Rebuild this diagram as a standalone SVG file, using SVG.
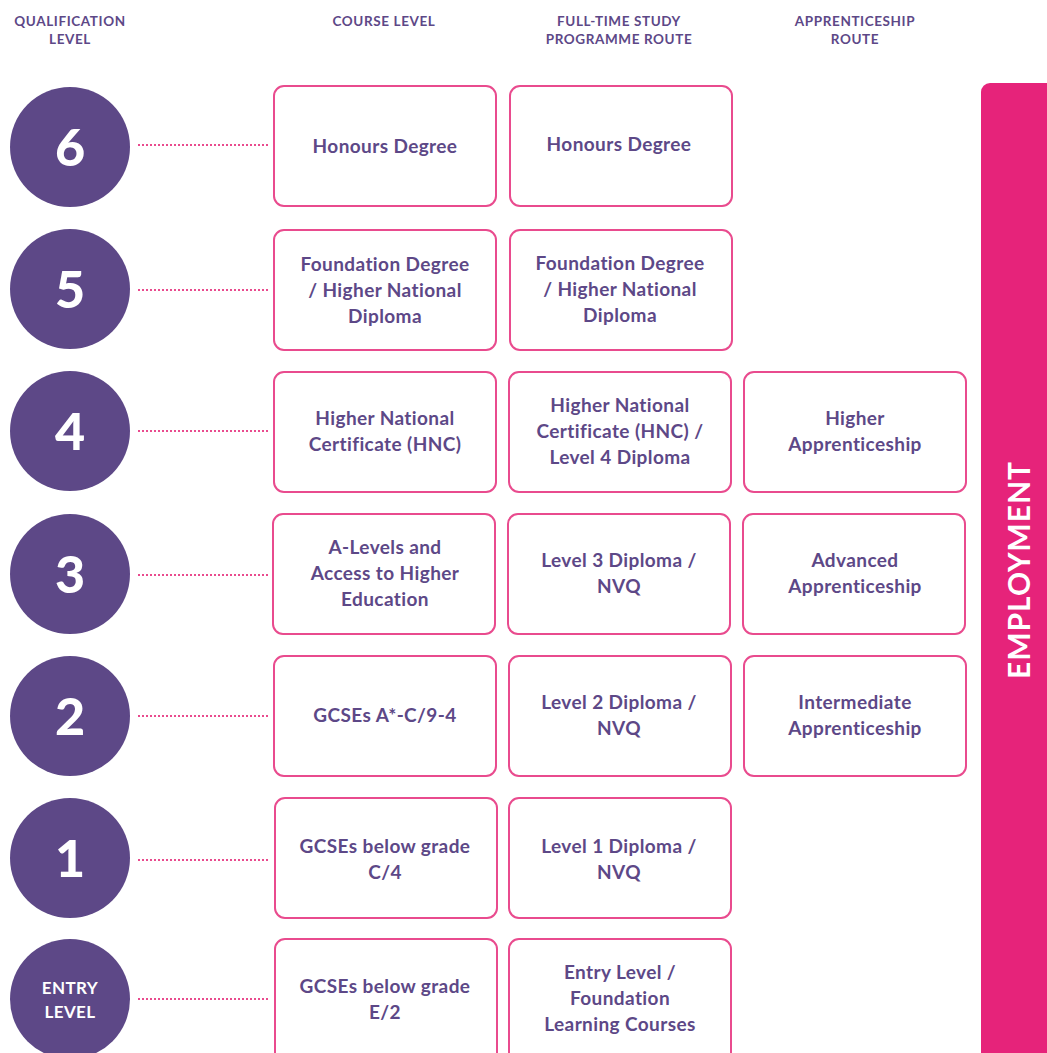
<svg xmlns="http://www.w3.org/2000/svg" width="1047" height="1053" viewBox="0 0 1047 1053">
<style>
.hd{font-family:Lato,"Open Sans",sans-serif;font-weight:700;font-size:13.5px;letter-spacing:0.6px;fill:#5D4887;text-anchor:middle}
.bx{fill:#fff;stroke:#E94B8E;stroke-width:2}
.tx{font-family:Lato,"Open Sans",sans-serif;font-weight:700;font-size:19px;letter-spacing:0.4px;fill:#5D4887;text-anchor:middle}
.cc{fill:#5D4887}
.num{font-family:Lato,"Open Sans",sans-serif;font-weight:900;font-size:52px;fill:#fff;text-anchor:middle}
.ent{font-family:Lato,"Open Sans",sans-serif;font-weight:700;font-size:17px;letter-spacing:0.4px;fill:#fff;text-anchor:middle}
.dot{stroke:#E94B8E;stroke-width:2;stroke-dasharray:2 2;fill:none}
</style>
<rect width="1047" height="1053" fill="#fff"/>
<g id="headers">
<text class="hd" x="70" y="26">QUALIFICATION</text>
<text class="hd" x="70" y="44">LEVEL</text>
<text class="hd" x="384" y="26">COURSE LEVEL</text>
<text class="hd" x="619" y="26">FULL-TIME STUDY</text>
<text class="hd" x="619" y="44">PROGRAMME ROUTE</text>
<text class="hd" x="855" y="26">APPRENTICESHIP</text>
<text class="hd" x="855" y="44">ROUTE</text>
</g>
<g id="employment">
<rect x="981" y="83" width="90" height="1000" rx="9" fill="#E6237A"/>
<text transform="translate(1030,570) rotate(-90)" font-family="Lato,'Open Sans',sans-serif" font-weight="700" font-size="30" letter-spacing="1" fill="#fff" text-anchor="middle">EMPLOYMENT</text>
</g>
<g id="connectors">
<line class="dot" x1="138" y1="145" x2="268" y2="145"/>
<line class="dot" x1="138" y1="290" x2="268" y2="290"/>
<line class="dot" x1="138" y1="431" x2="268" y2="431"/>
<line class="dot" x1="138" y1="575" x2="268" y2="575"/>
<line class="dot" x1="138" y1="716" x2="268" y2="716"/>
<line class="dot" x1="138" y1="860" x2="268" y2="860"/>
<line class="dot" x1="138" y1="999" x2="268" y2="999"/>
</g>
<g id="level6">
<circle class="cc" cx="70" cy="147" r="60"/>
<text class="num" x="70" y="166">6</text>
</g>
<g id="level5">
<circle class="cc" cx="70" cy="289" r="60"/>
<text class="num" x="70" y="308">5</text>
</g>
<g id="level4">
<circle class="cc" cx="70" cy="431" r="60"/>
<text class="num" x="70" y="450">4</text>
</g>
<g id="level3">
<circle class="cc" cx="70" cy="574" r="60"/>
<text class="num" x="70" y="593">3</text>
</g>
<g id="level2">
<circle class="cc" cx="70" cy="716" r="60"/>
<text class="num" x="70" y="735">2</text>
</g>
<g id="level1">
<circle class="cc" cx="70" cy="858" r="60"/>
<text class="num" x="70" y="877">1</text>
</g>
<g id="levelEntry">
<circle class="cc" cx="70" cy="999" r="60"/>
<text class="ent" x="70" y="994">ENTRY</text>
<text class="ent" x="70" y="1018">LEVEL</text>
</g>
<g id="c6a"><rect class="bx" x="274" y="86" width="222" height="120" rx="10"/><text class="tx" x="385" y="153">Honours Degree</text></g>
<g id="c6b"><rect class="bx" x="510" y="86" width="222" height="120" rx="10"/><text class="tx" x="619" y="151">Honours Degree</text></g>
<g id="c5a"><rect class="bx" x="274" y="230" width="222" height="120" rx="10"/><text class="tx" x="385" y="271">Foundation Degree</text><text class="tx" x="385" y="297">/ Higher National</text><text class="tx" x="385" y="323">Diploma</text></g>
<g id="c5b"><rect class="bx" x="510" y="230" width="222" height="120" rx="10"/><text class="tx" x="620" y="270">Foundation Degree</text><text class="tx" x="620" y="296">/ Higher National</text><text class="tx" x="620" y="322">Diploma</text></g>
<g id="c4a"><rect class="bx" x="274" y="372" width="222" height="120" rx="10"/><text class="tx" x="385" y="425">Higher National</text><text class="tx" x="385" y="451">Certificate (HNC)</text></g>
<g id="c4b"><rect class="bx" x="509" y="372" width="222" height="120" rx="10"/><text class="tx" x="620" y="412">Higher National</text><text class="tx" x="620" y="438">Certificate (HNC) /</text><text class="tx" x="620" y="464">Level 4 Diploma</text></g>
<g id="c4c"><rect class="bx" x="744" y="372" width="222" height="120" rx="10"/><text class="tx" x="855" y="425">Higher</text><text class="tx" x="855" y="451">Apprenticeship</text></g>
<g id="c3a"><rect class="bx" x="273" y="514" width="222" height="120" rx="10"/><text class="tx" x="385" y="554">A-Levels and</text><text class="tx" x="385" y="580">Access to Higher</text><text class="tx" x="385" y="606">Education</text></g>
<g id="c3b"><rect class="bx" x="508" y="514" width="222" height="120" rx="10"/><text class="tx" x="619" y="567">Level 3 Diploma /</text><text class="tx" x="619" y="593">NVQ</text></g>
<g id="c3c"><rect class="bx" x="743" y="514" width="222" height="120" rx="10"/><text class="tx" x="855" y="567">Advanced</text><text class="tx" x="855" y="593">Apprenticeship</text></g>
<g id="c2a"><rect class="bx" x="274" y="656" width="222" height="120" rx="10"/><text class="tx" x="385" y="722">GCSEs A*-C/9-4</text></g>
<g id="c2b"><rect class="bx" x="509" y="656" width="222" height="120" rx="10"/><text class="tx" x="619" y="709">Level 2 Diploma /</text><text class="tx" x="619" y="735">NVQ</text></g>
<g id="c2c"><rect class="bx" x="744" y="656" width="222" height="120" rx="10"/><text class="tx" x="855" y="709">Intermediate</text><text class="tx" x="855" y="735">Apprenticeship</text></g>
<g id="c1a"><rect class="bx" x="275" y="798" width="222" height="120" rx="10"/><text class="tx" x="385" y="853">GCSEs below grade</text><text class="tx" x="385" y="879">C/4</text></g>
<g id="c1b"><rect class="bx" x="509" y="798" width="222" height="120" rx="10"/><text class="tx" x="619" y="853">Level 1 Diploma /</text><text class="tx" x="619" y="879">NVQ</text></g>
<g id="cEa"><rect class="bx" x="275" y="939" width="222" height="130" rx="10"/><text class="tx" x="385" y="993">GCSEs below grade</text><text class="tx" x="385" y="1019">E/2</text></g>
<g id="cEb"><rect class="bx" x="509" y="939" width="222" height="130" rx="10"/><text class="tx" x="620" y="979">Entry Level /</text><text class="tx" x="620" y="1005">Foundation</text><text class="tx" x="620" y="1031">Learning Courses</text></g>
</svg>
